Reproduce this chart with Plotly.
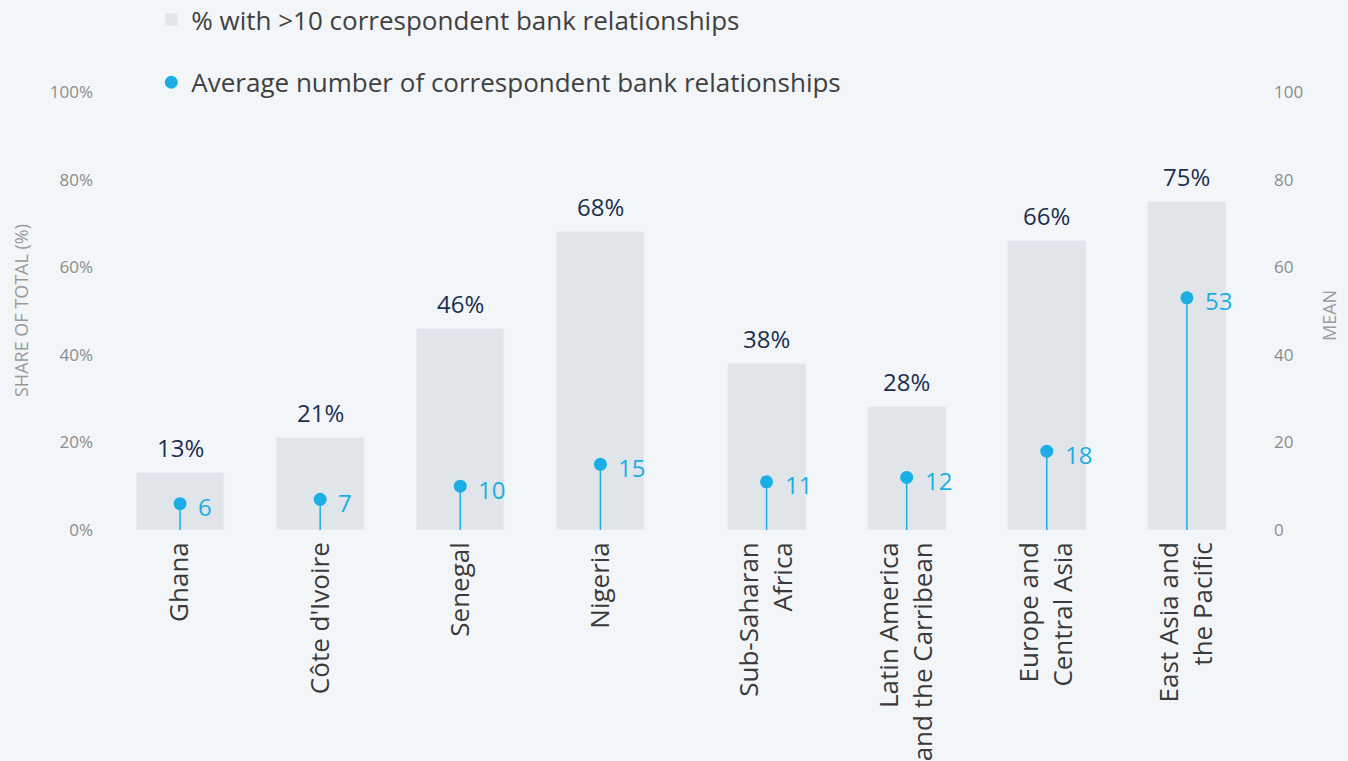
import plotly.graph_objects as go

categories = ["Ghana", "Côte d'Ivoire", "Senegal", "Nigeria",
              "Sub-Saharan<br>Africa", "Latin America<br>and the Carribean",
              "Europe and<br>Central Asia", "East Asia and<br>the Pacific"]
share_gt10 = [13, 21, 46, 68, 38, 28, 66, 75]
mean_rel = [6, 7, 10, 15, 11, 12, 18, 53]
left_ticks = [0, 20, 40, 60, 80, 100]
left_tick_labels = ["0%", "20%", "40%", "60%", "80%", "100%"]
right_ticks = [0, 20, 40, 60, 80, 100]

# layout positions (countries group, then regions group after a small gap)
xpos = [0, 1, 2, 3, 4.186, 5.186, 6.186, 7.186]
bar_w = [0.62, 0.62, 0.62, 0.62, 0.557, 0.557, 0.557, 0.557]

BG = "#f3f6f8"
BAR = "#dfe5e9"
BLUE = "#1aaee5"
NAVY = "#1c2f50"
GREY = "#8c8c8c"
FONT = "Open Sans"

fig = go.Figure()
fig.add_trace(go.Bar(
    x=xpos, y=share_gt10, width=bar_w, marker_color=BAR,
    name="% with >10 correspondent bank relationships",
    legendgroup="a", yaxis="y", hoverinfo="skip"))
fig.add_trace(go.Scatter(
    x=xpos, y=mean_rel, mode="markers", yaxis="y2",
    marker=dict(color=BLUE, size=13),
    error_y=dict(type="data", symmetric=False, array=[0] * len(mean_rel),
                 arrayminus=mean_rel, color=BLUE, thickness=1.5, width=0),
    name="Average number of correspondent bank relationships",
    legendgroup="b", cliponaxis=False))

ann = []
for x, v in zip(xpos, share_gt10):
    ann.append(dict(x=x, y=v, xref="x", yref="y", text=f"{v}%", showarrow=False,
                    xanchor="center", yanchor="bottom", yshift=7,
                    font=dict(family=FONT, size=24, color=NAVY)))
for x, v in zip(xpos, mean_rel):
    ann.append(dict(x=x, y=v, xref="x", yref="y2", text=str(v), showarrow=False,
                    xanchor="left", yanchor="middle", xshift=16, yshift=-3,
                    font=dict(family=FONT, size=24, color=BLUE)))
ann.append(dict(x=0, y=0.5, xref="paper", yref="paper", text="SHARE OF TOTAL (%)",
                textangle=-90, showarrow=False, xanchor="center", yanchor="middle",
                xshift=-77, font=dict(family=FONT, size=18, color="#9a9a9a")))
ann.append(dict(x=1, y=0.5, xref="paper", yref="paper", text="MEAN",
                textangle=-90, showarrow=False, xanchor="center", yanchor="middle",
                xshift=59, yshift=-5, font=dict(family=FONT, size=18, color="#9a9a9a")))

fig.update_layout(
    width=1348, height=761,
    paper_bgcolor=BG, plot_bgcolor=BG,
    margin=dict(l=98, r=78, t=92, b=231, autoexpand=False),
    font=dict(family=FONT, color="#404040"),
    showlegend=True,
    legend=dict(x=0.0455, y=1.219, xanchor="left", yanchor="top",
                traceorder="grouped", tracegroupgap=26,
                font=dict(family=FONT, size=26, color="#404040"),
                bgcolor="rgba(0,0,0,0)", itemwidth=30),
    xaxis=dict(range=[-0.5857, 7.779], tickvals=xpos, ticktext=categories,
               tickangle=-90, showgrid=False, zeroline=False, showline=False,
               ticks="", ticklabelstandoff=6,
               tickfont=dict(family=FONT, size=26, color="#3a3a3a")),
    yaxis=dict(range=[0, 100], tickvals=left_ticks, ticktext=left_tick_labels,
               showgrid=False, zeroline=False, showline=False, ticks="",
               ticklabelstandoff=4,
               tickfont=dict(family=FONT, size=17, color=GREY)),
    yaxis2=dict(range=[0, 100], tickvals=right_ticks, overlaying="y", side="right",
                showgrid=False, zeroline=False, showline=False, ticks="",
                ticklabelstandoff=3,
                tickfont=dict(family=FONT, size=17, color=GREY)),
    annotations=ann,
    bargap=0,
)

fig.write_html("out.html")
